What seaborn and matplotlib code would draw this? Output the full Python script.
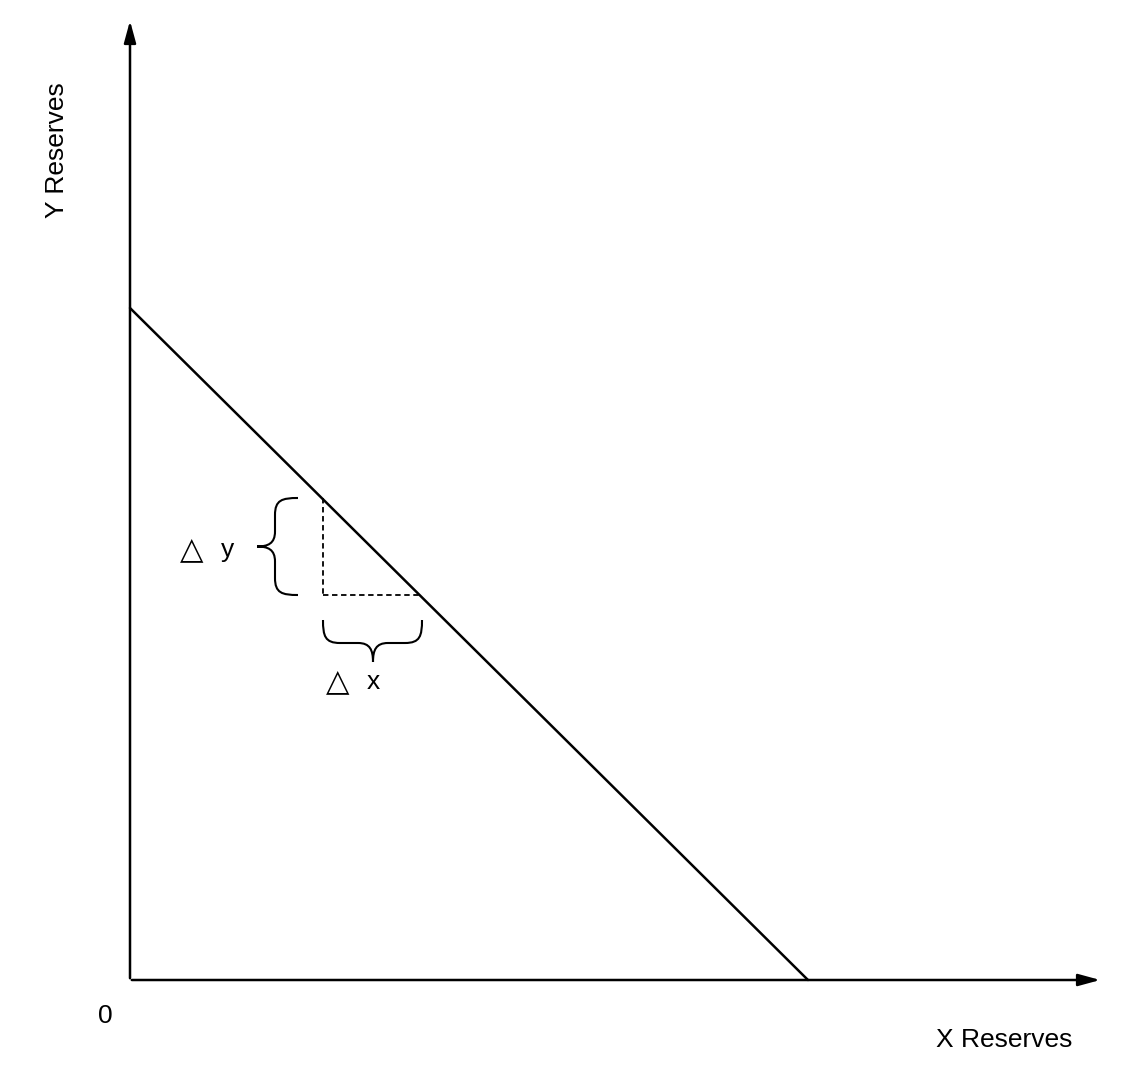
import matplotlib
matplotlib.use("Agg")
import matplotlib.pyplot as plt
import seaborn as sns
import pandas as pd
from matplotlib.path import Path
from matplotlib.patches import PathPatch

sns.set_theme(style="white")
plt.rcParams['font.family'] = ['Liberation Sans', 'DejaVu Sans']

# Curve endpoints (pixel-like units, y downward)
curve_x = [130, 808]
curve_y = [308, 980]
# Delta segment on the curve
dx_pts = [323, 422]
dy_pts = [498, 595]

fig = plt.figure(figsize=(11.22, 10.88), dpi=100)
ax = fig.add_axes([0, 0, 1, 1])
ax.set_xlim(0, 1122)
ax.set_ylim(1088, 0)
ax.axis('off')

sns.lineplot(x=curve_x, y=curve_y, ax=ax, color='black', lw=1.8)

# axes arrows
ax.annotate('', xy=(130, 18), xytext=(130, 981),
            arrowprops=dict(arrowstyle='-|>,head_length=1.1,head_width=0.3', color='black', lw=1.8))
ax.annotate('', xy=(1103, 980), xytext=(129, 980),
            arrowprops=dict(arrowstyle='-|>,head_length=1.1,head_width=0.3', color='black', lw=1.8))

# dashed lines
ax.plot([dx_pts[0], dx_pts[0]], [dy_pts[0], dy_pts[1]], color='black', ls=(0, (3, 2)), lw=1.3)
ax.plot([dx_pts[0], dx_pts[1]], [dy_pts[1], dy_pts[1]], color='black', ls=(0, (3, 2)), lw=1.3)

# vertical brace
y0, y1 = dy_pts
ym = (y0 + y1) / 2
verts = [(298, y0), (282, y0), (275, y0 + 2), (275, y0 + 17),
         (275, ym - 15),
         (275, ym - 3), (268, ym), (257, ym),
         (268, ym), (275, ym + 3), (275, ym + 15),
         (275, y1 - 17),
         (275, y1 - 2), (282, y1), (298, y1)]
codes = [Path.MOVETO, Path.CURVE4, Path.CURVE4, Path.CURVE4, Path.LINETO,
         Path.CURVE4, Path.CURVE4, Path.CURVE4, Path.CURVE4, Path.CURVE4, Path.CURVE4,
         Path.LINETO, Path.CURVE4, Path.CURVE4, Path.CURVE4]
ax.add_patch(PathPatch(Path(verts, codes), fc='none', ec='black', lw=1.5))

# horizontal brace
x0, x1 = dx_pts
xm = 373
verts = [(x0, 620), (x0, 636), (x0 + 2, 643), (x0 + 17, 643),
         (xm - 15, 643),
         (xm - 3, 643), (xm, 650), (xm, 662),
         (xm, 650), (xm + 3, 643), (xm + 15, 643),
         (x1 - 17, 643),
         (x1 - 2, 643), (x1, 636), (x1, 620)]
ax.add_patch(PathPatch(Path(verts, codes), fc='none', ec='black', lw=1.5))

fs = 19
ax.text(192, 550, '△', fontsize=22, ha='center', va='center', color='black', family=['DejaVu Sans'])
ax.text(228, 550, 'y', fontsize=fs, ha='center', va='center', color='black')
ax.text(338, 682, '△', fontsize=22, ha='center', va='center', color='black', family=['DejaVu Sans'])
ax.text(373, 682, 'x', fontsize=fs, ha='center', va='center', color='black')
ax.text(105, 1016, '0', fontsize=fs, ha='center', va='center', color='black')
ax.text(1004, 1040, 'X Reserves', fontsize=fs, ha='center', va='center', color='black')
ax.text(57, 150, 'Y Reserves', fontsize=fs, ha='center', va='center', rotation=90, color='black')

fig.savefig('out.png', dpi=100)
